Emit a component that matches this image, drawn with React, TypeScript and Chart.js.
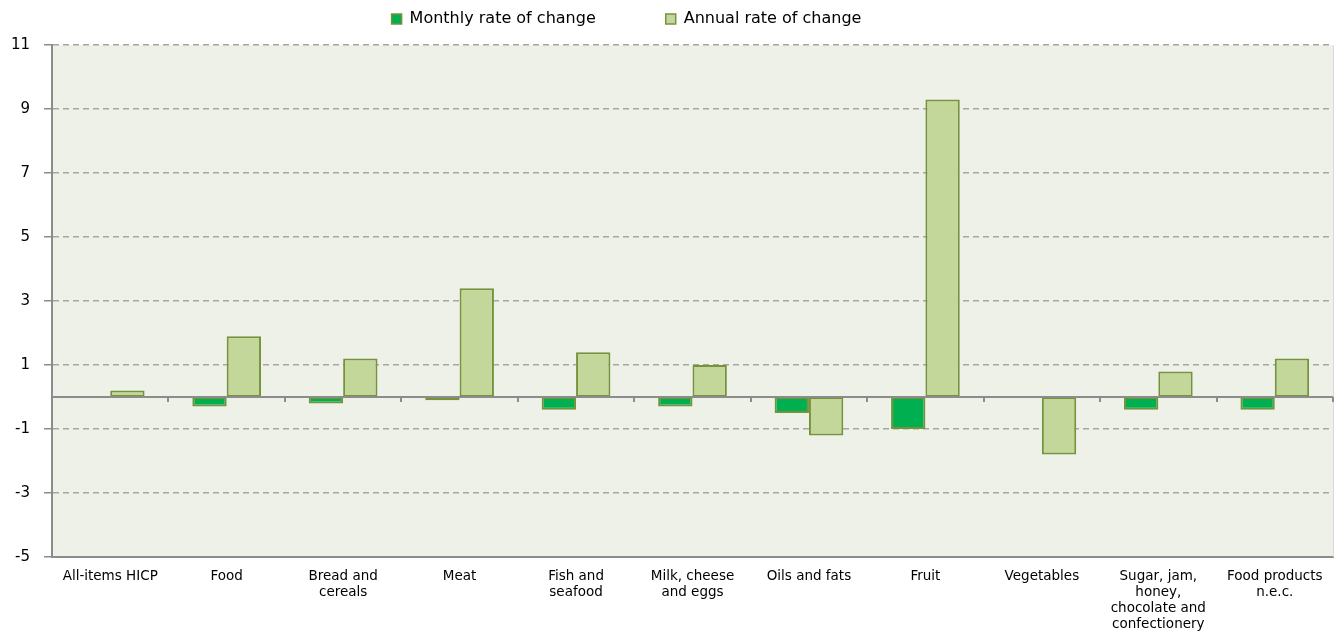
import React, { useEffect, useRef } from 'react';
import { Chart, registerables } from 'chart.js';

Chart.register(...registerables);

const categories: string[][] = [
  ['All-items HICP'],
  ['Food'],
  ['Bread and', 'cereals'],
  ['Meat'],
  ['Fish and', 'seafood'],
  ['Milk, cheese', 'and eggs'],
  ['Oils and fats'],
  ['Fruit'],
  ['Vegetables'],
  ['Sugar, jam,', 'honey,', 'chocolate and', 'confectionery'],
  ['Food products', 'n.e.c.'],
];

const monthlyRate = [0, -0.3, -0.2, -0.1, -0.4, -0.3, -0.5, -1.0, 0, -0.4, -0.4];
const annualRate = [0.2, 1.9, 1.2, 3.4, 1.4, 1.0, -1.2, 9.3, -1.8, 0.8, 1.2];
const yTicks = [-5, -3, -1, 1, 3, 5, 7, 9, 11];

const FONT = '"DejaVu Sans", Verdana, sans-serif';
const PLOT_BG = '#EEF1E7';
const AXIS_GREY = '#8C8C8C';
const GRID_GREY = '#A6A6A6';
const BAR_BORDER = '#76933C';
const LEGEND_PAD = 70;

const decorPlugin = {
  id: 'decor',
  beforeDraw(chart: any) {
    const { ctx, chartArea } = chart;
    ctx.save();
    ctx.fillStyle = PLOT_BG;
    ctx.fillRect(chartArea.left, chartArea.top, chartArea.right - chartArea.left, chartArea.bottom - chartArea.top);
    ctx.restore();
  },
  afterLayout(chart: any) {
    const lg = chart.legend;
    if (lg) {
      lg.top = 11 - LEGEND_PAD;
      lg.bottom = 45;
      lg.left = -80;
    }
  },
  afterDatasetsDraw(chart: any) {
    const { ctx, chartArea, scales } = chart;
    const y0 = scales.y.getPixelForValue(0);
    ctx.save();
    // right border
    ctx.strokeStyle = '#D9D9D9';
    ctx.lineWidth = 1;
    ctx.beginPath();
    ctx.moveTo(chartArea.right + 0.5, chartArea.top);
    ctx.lineTo(chartArea.right + 0.5, chartArea.bottom);
    ctx.stroke();
    // zero line
    ctx.strokeStyle = AXIS_GREY;
    ctx.lineWidth = 2;
    ctx.beginPath();
    ctx.moveTo(chartArea.left, y0);
    ctx.lineTo(chartArea.right, y0);
    ctx.stroke();
    // category tick marks
    const n = categories.length;
    const step = scales.x.getPixelForValue(1) - scales.x.getPixelForValue(0);
    for (let i = 1; i <= n; i++) {
      const xb = scales.x.getPixelForValue(i - 1) + step / 2;
      ctx.beginPath();
      ctx.moveTo(Math.round(xb), y0);
      ctx.lineTo(Math.round(xb), y0 + 5);
      ctx.stroke();
    }
    ctx.restore();
  },
};

export default function App() {
  const canvasRef = useRef<HTMLCanvasElement | null>(null);

  useEffect(() => {
    if (!canvasRef.current) return;
    const chart = new Chart(canvasRef.current, {
      type: 'bar',
      data: {
        labels: categories,
        datasets: [
          {
            label: 'Monthly rate of change',
            data: monthlyRate,
            backgroundColor: '#00B050',
            borderColor: BAR_BORDER,
            borderWidth: (c: any) => (c.raw === 0 ? 0 : 2),
            borderSkipped: false,
            categoryPercentage: 0.59,
            barPercentage: 1,
          },
          {
            label: 'Annual rate of change',
            data: annualRate,
            backgroundColor: '#C4D79B',
            borderColor: BAR_BORDER,
            borderWidth: (c: any) => (c.raw === 0 ? 0 : 2),
            borderSkipped: false,
            categoryPercentage: 0.59,
            barPercentage: 1,
          },
        ],
      },
      options: {
        animation: false,
        responsive: true,
        maintainAspectRatio: false,
        layout: { padding: { top: 0, right: 10, bottom: 0, left: 0 } },
        plugins: {
          tooltip: { enabled: false },
          legend: {
            display: true,
            position: 'top',
            maxHeight: 45,
            labels: {
              boxWidth: 10,
              boxHeight: 10,
              padding: LEGEND_PAD,
              color: '#000',
              font: { family: FONT, size: 16 },
              generateLabels: (ch: any) =>
                ch.data.datasets.map((ds: any, i: number) => ({
                  text: ds.label,
                  fillStyle: ds.backgroundColor,
                  strokeStyle: BAR_BORDER,
                  lineWidth: 1.5,
                  hidden: false,
                  datasetIndex: i,
                  fontColor: '#000',
                })),
            },
          },
        },
        scales: {
          x: {
            grid: { display: true, drawOnChartArea: false, drawTicks: false },
            border: { display: true, color: AXIS_GREY, width: 2 },
            ticks: {
              autoSkip: false,
              maxRotation: 0,
              minRotation: 0,
              padding: 11,
              color: '#000',
              font: { family: FONT, size: 13.5, lineHeight: 1.2 },
            },
            afterFit: (s: any) => {
              s.height = 75;
            },
          },
          y: {
            min: -5,
            max: 11,
            afterBuildTicks: (s: any) => {
              s.ticks = yTicks.map((v) => ({ value: v }));
            },
            grid: {
              color: GRID_GREY,
              lineWidth: 1.5,
              tickColor: AXIS_GREY,
              tickLength: 8,
              tickBorderDash: [],
            },
            border: { display: true, color: AXIS_GREY, width: 2, dash: [6, 4] },
            ticks: {
              padding: 14,
              color: '#000',
              font: { family: FONT, size: 15 },
            },
            afterFit: (s: any) => {
              s.width = 52;
            },
          },
        },
      } as any,
      plugins: [decorPlugin],
    });
    return () => chart.destroy();
  }, []);

  return (
    <div style={{ position: 'fixed', left: 0, top: 0, width: 1343, height: 632, background: '#fff' }}>
      <canvas ref={canvasRef} />
    </div>
  );
}
